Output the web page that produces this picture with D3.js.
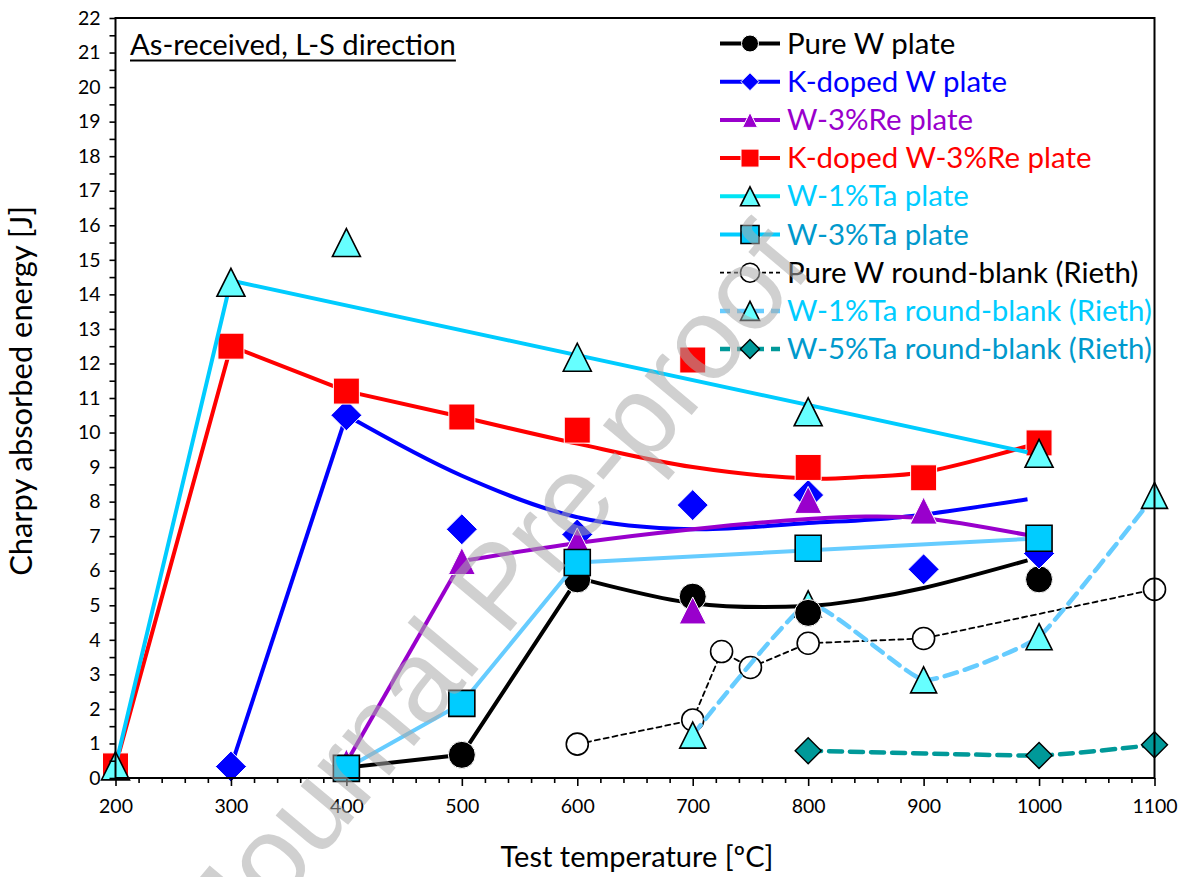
<!DOCTYPE html>
<html>
<head>
<meta charset="utf-8">
<script src="https://cdn.jsdelivr.net/npm/d3@7"></script>
<style>
  body { margin: 0; background: #fff; }
  svg { display: block; }
</style>
</head>
<body>
<svg id="chart" width="1183" height="877"></svg>
<script>
// ---- Axis ticks ----
const temperatureTicks = [200, 300, 400, 500, 600, 700, 800, 900, 1000, 1100];
const energyTicks = [0, 1, 2, 3, 4, 5, 6, 7, 8, 9, 10, 11, 12, 13, 14, 15, 16, 17, 18, 19, 20, 21, 22];

// ---- Measured Charpy energies [temperature °C, energy J] ----
const pureWPlate = [[500, 0.67], [600, 5.75], [700, 5.25], [800, 4.78], [1000, 5.75]];
const pureWPlateRise = [[400, 0.3], [500, 0.67], [600, 5.75]];
const pureWPlateFit = [[600, 5.8], [700, 5.06], [800, 4.98], [850, 5.18], [900, 5.5], [990, 6.3]];

const kDopedWPlate = [[300, 0.33], [400, 10.5], [500, 7.2], [600, 7.05], [700, 7.9], [800, 8.19], [900, 6.04], [1000, 6.5]];
const kDopedWPlateRise = [[300, 0.33], [400, 10.5]];
const kDopedWPlateFit = [[400, 10.5], [500, 8.75], [600, 7.55], [700, 7.2], [800, 7.38], [880, 7.55], [990, 8.07]];

const w3RePlate = [[400, 0.45], [500, 6.28], [600, 6.85], [700, 4.85], [800, 8.05], [900, 7.74], [1000, 6.95]];
const w3RePlateRise = [[400, 0.45], [500, 6.28]];
const w3RePlateFit = [[500, 6.28], [600, 6.8], [700, 7.2], [800, 7.5], [850, 7.57], [900, 7.52], [1000, 6.97]];

const kDopedW3RePlate = [[200, 0.35], [300, 12.5], [400, 11.2], [500, 10.45], [600, 10.07], [700, 12.1], [800, 8.99], [900, 8.69], [1000, 9.7]];
const kDopedW3RePlateRise = [[200, 0.35], [300, 12.5], [400, 11.2], [500, 10.45]];
const kDopedW3RePlateFit = [[500, 10.45], [600, 9.68], [700, 9.0], [800, 8.67], [850, 8.72], [900, 8.85], [1000, 9.7]];

const w1TaPlate = [[200, 0.35], [300, 14.35], [400, 15.5], [600, 12.18], [800, 10.6], [1000, 9.4]];
const w1TaPlateTrend = [[200, 0.35], [300, 14.4], [990, 9.43]];

const w3TaPlate = [[400, 0.28], [500, 2.16], [600, 6.24], [800, 6.65], [1000, 6.94]];
const w3TaPlateTrend = [[400, 0.28], [500, 2.16], [600, 6.24], [990, 6.92]];

const pureWRoundBlank = [[600, 0.98], [700, 1.68], [725, 3.66], [750, 3.2], [800, 3.9], [900, 4.04], [1100, 5.46]];
const w1TaRoundBlank = [[700, 1.24], [800, 5.04], [900, 2.84], [1000, 4.09], [1100, 8.18]];
const w5TaRoundBlank = [[800, 0.79], [1000, 0.65], [1100, 0.96]];

const seriesNames = [
  "Pure W plate", "K-doped W plate", "W-3%Re plate", "K-doped W-3%Re plate",
  "W-1%Ta plate", "W-3%Ta plate", "Pure W round-blank (Rieth)",
  "W-1%Ta round-blank (Rieth)", "W-5%Ta round-blank (Rieth)"
];

// ---- Layout ----
const svg = d3.select("#chart");
const FONT = "Lato, 'Open Sans', sans-serif";
const x = d3.scaleLinear().domain([200, 1100]).range([115.5, 1154.5]);
const y = d3.scaleLinear().domain([0, 22]).range([778, 18]);

const linear = d3.line().x(d => x(d[0])).y(d => y(d[1]));
const smooth = d3.line().x(d => x(d[0])).y(d => y(d[1])).curve(d3.curveCatmullRom.alpha(0.5));
const gentle = d3.line().x(d => x(d[0])).y(d => y(d[1])).curve(d3.curveCardinal.tension(0.6));

// ---- Marker shapes (centred on the point) ----
function markerPath(shape, s) {
  const h = s / 2;
  switch (shape) {
    case "circle":
      return `M${h},0A${h},${h} 0 1,1 ${-h},0A${h},${h} 0 1,1 ${h},0Z`;
    case "square":
      return `M${-h},${-h}H${h}V${h}H${-h}Z`;
    case "diamond":
      return `M0,${-h}L${h},0L0,${h}L${-h},0Z`;
    case "triangle":
      return `M0,${-h}L${h},${h}L${-h},${h}Z`;
  }
}

const styles = {
  pureW:    { line: "#000000", width: 4,   dash: null,    shape: "circle",   size: 27, fill: "#000000", stroke: "#ffffff", sw: 1,   text: "#000000", lsize: 17 },
  kW:       { line: "#0000ff", width: 4,   dash: null,    shape: "diamond",  size: 31, fill: "#0000ff", stroke: "#ffffff", sw: 1,   text: "#0000ff", lsize: 18 },
  w3Re:     { line: "#9900cc", width: 4,   dash: null,    shape: "triangle", size: 27, fill: "#9900cc", stroke: "#ffffff", sw: 1,   text: "#9900cc", lsize: 15 },
  kW3Re:    { line: "#ff0000", width: 4,   dash: null,    shape: "square",   size: 26, fill: "#ff0000", stroke: "#ffffff", sw: 1,   text: "#ff0000", lsize: 18 },
  w1Ta:     { line: "#00ccff", width: 4,   dash: null,    shape: "triangle", size: 28, fill: "#66ffff", stroke: "#000000", sw: 1.6, text: "#00ccff", lsize: 19, legendLine: "#00e4f4" },
  w3Ta:     { line: "#66ccff", width: 4,   dash: null,    shape: "square",   size: 26, fill: "#00ccff", stroke: "#000000", sw: 1.6, text: "#0099cc", lsize: 18, legendLine: "#00ccff" },
  pureWRB:  { line: "#000000", width: 1.8, dash: "5,4",   shape: "circle",   size: 22, fill: "#ffffff", stroke: "#000000", sw: 1.6, text: "#000000", lsize: 19 },
  w1TaRB:   { line: "#66ccff", width: 4.5, dash: "13,8",  shape: "triangle", size: 26, fill: "#66ffff", stroke: "#000000", sw: 1.6, text: "#00ccff", lsize: 19 },
  w5TaRB:   { line: "#009999", width: 4.5, dash: "13,8",  shape: "diamond",  size: 26, fill: "#009999", stroke: "#000000", sw: 1.4, text: "#0099cc", lsize: 19 }
};

const plot = svg.append("g");

function drawLine(data, st, gen) {
  plot.append("path")
    .datum(data)
    .attr("d", gen)
    .attr("fill", "none")
    .attr("stroke", st.line)
    .attr("stroke-width", st.width)
    .attr("stroke-dasharray", st.dash)
    .attr("stroke-linejoin", "round")
    .attr("stroke-linecap", st.dash ? "round" : "butt");
}

function drawMarkers(data, st) {
  plot.append("g").selectAll("path")
    .data(data)
    .join("path")
    .attr("transform", d => `translate(${x(d[0])},${y(d[1])})`)
    .attr("d", markerPath(st.shape, st.size))
    .attr("fill", st.fill)
    .attr("stroke", st.stroke)
    .attr("stroke-width", st.sw);
}

// Round-blank series sit underneath the plate series
drawLine(pureWRoundBlank, styles.pureWRB, linear);
drawMarkers(pureWRoundBlank, styles.pureWRB);
drawLine(w1TaRoundBlank, styles.w1TaRB, gentle);
drawMarkers(w1TaRoundBlank, styles.w1TaRB);
drawLine(w5TaRoundBlank, styles.w5TaRB, gentle);
drawMarkers(w5TaRoundBlank, styles.w5TaRB);

drawLine(pureWPlateRise, styles.pureW, linear);
drawLine(pureWPlateFit, styles.pureW, smooth);
drawMarkers(pureWPlate, styles.pureW);

drawLine(kDopedWPlateRise, styles.kW, linear);
drawLine(kDopedWPlateFit, styles.kW, smooth);
drawMarkers(kDopedWPlate, styles.kW);

drawLine(w3RePlateRise, styles.w3Re, linear);
drawLine(w3RePlateFit, styles.w3Re, smooth);
drawMarkers(w3RePlate, styles.w3Re);

drawLine(kDopedW3RePlateRise, styles.kW3Re, linear);
drawLine(kDopedW3RePlateFit, styles.kW3Re, smooth);
drawMarkers(kDopedW3RePlate, styles.kW3Re);

drawLine(w1TaPlateTrend, styles.w1Ta, linear);
drawMarkers(w1TaPlate, styles.w1Ta);

drawLine(w3TaPlateTrend, styles.w3Ta, linear);
drawMarkers(w3TaPlate, styles.w3Ta);

// ---- Axes ----
const yAxis = svg.append("g")
  .attr("transform", `translate(${x.range()[0]},0)`)
  .call(d3.axisLeft(y).tickValues(energyTicks).tickSize(6).tickPadding(9).tickFormat(d3.format("d")));
svg.append("g")
  .attr("transform", `translate(${x.range()[0]},0)`)
  .call(d3.axisLeft(y).tickValues(energyTicks.slice(1).map(v => v - 0.5)).tickSize(6).tickFormat(""));

const minorTemps = d3.range(200, 1101, 20).filter(t => t % 100 !== 0);
const xAxis = svg.append("g")
  .attr("transform", `translate(0,${y.range()[0]})`)
  .call(d3.axisBottom(x).tickValues(temperatureTicks).tickSize(8).tickPadding(13).tickFormat(d3.format("d")));
svg.append("g")
  .attr("transform", `translate(0,${y.range()[0]})`)
  .call(d3.axisBottom(x).tickValues(minorTemps).tickSize(5).tickFormat(""));

svg.selectAll(".domain").remove();
svg.selectAll(".tick line").attr("stroke", "#000").attr("stroke-width", 1.6);
yAxis.selectAll("text").attr("font-family", FONT).attr("font-size", 19.5).attr("fill", "#000");
xAxis.selectAll("text").attr("font-family", FONT).attr("font-size", 19.5).attr("fill", "#000");

// Plot frame
svg.append("rect")
  .attr("x", x.range()[0]).attr("y", y.range()[1])
  .attr("width", x.range()[1] - x.range()[0])
  .attr("height", y.range()[0] - y.range()[1])
  .attr("fill", "none").attr("stroke", "#000").attr("stroke-width", 2);

// Helper: scale a label's font so it spans a given width
function fitWidth(sel, target) {
  const w = sel.node().getComputedTextLength();
  const fs = parseFloat(sel.attr("font-size"));
  sel.attr("font-size", fs * target / w);
}

// Axis titles
const yTitle = svg.append("text")
  .attr("transform", "translate(32,391) rotate(-90)")
  .attr("text-anchor", "middle")
  .attr("font-family", FONT).attr("font-size", 28).attr("fill", "#000")
  .text("Charpy absorbed energy [J]");
fitWidth(yTitle, 370);

const xTitle = svg.append("text")
  .attr("x", 637).attr("y", 867)
  .attr("text-anchor", "middle")
  .attr("font-family", FONT).attr("font-size", 28).attr("fill", "#000")
  .text("Test temperature [ºC]");
fitWidth(xTitle, 273);

// Panel title, underlined
const title = svg.append("text")
  .attr("x", 130).attr("y", 55)
  .attr("font-family", FONT).attr("font-size", 27).attr("fill", "#000")
  .text("As-received, L-S direction");
fitWidth(title, 326);
svg.append("line")
  .attr("x1", 130).attr("x2", 130 + title.node().getComputedTextLength())
  .attr("y1", 60.5).attr("y2", 60.5)
  .attr("stroke", "#000").attr("stroke-width", 1.8);

// ---- Legend ----
const legendKeys = ["pureW", "kW", "w3Re", "kW3Re", "w1Ta", "w3Ta", "pureWRB", "w1TaRB", "w5TaRB"];
const legend = svg.append("g");
const rowGap = 38.2, rowTop = 43.5;
const items = legend.selectAll("g").data(legendKeys).join("g")
  .attr("transform", (d, i) => `translate(0,${rowTop + i * rowGap})`);
items.append("line")
  .attr("x1", 720).attr("x2", 780).attr("y1", 0).attr("y2", 0)
  .attr("stroke", d => styles[d].legendLine || styles[d].line)
  .attr("stroke-width", d => styles[d].width)
  .attr("stroke-dasharray", d => styles[d].dash ? (styles[d].width > 2 ? "10,7" : "4,3") : null);
items.append("path")
  .attr("transform", "translate(750,0)")
  .attr("d", d => markerPath(styles[d].shape, styles[d].lsize))
  .attr("fill", d => styles[d].fill)
  .attr("stroke", d => styles[d].stroke)
  .attr("stroke-width", d => styles[d].sw);
const labels = items.append("text")
  .attr("x", 787).attr("y", 10)
  .attr("font-family", FONT).attr("font-size", 28)
  .attr("fill", d => styles[d].text)
  .text((d, i) => seriesNames[i]);
// common font size set from the longest entry
const longest = labels.filter((d, i) => i === 7);
const baseW = longest.node().getComputedTextLength();
labels.attr("font-size", 28 * 365 / baseW);

// ---- Watermark ----
svg.append("text")
  .attr("transform", "translate(504,592) rotate(-50)")
  .attr("x", 0).attr("y", 30)
  .attr("text-anchor", "middle")
  .attr("font-family", "'Liberation Sans', Arial, sans-serif")
  .attr("font-size", 116)
  .attr("fill", "#aaaaaa").attr("fill-opacity", 0.55)
  .text("Journal Pre-proof");
</script>
</body>
</html>
